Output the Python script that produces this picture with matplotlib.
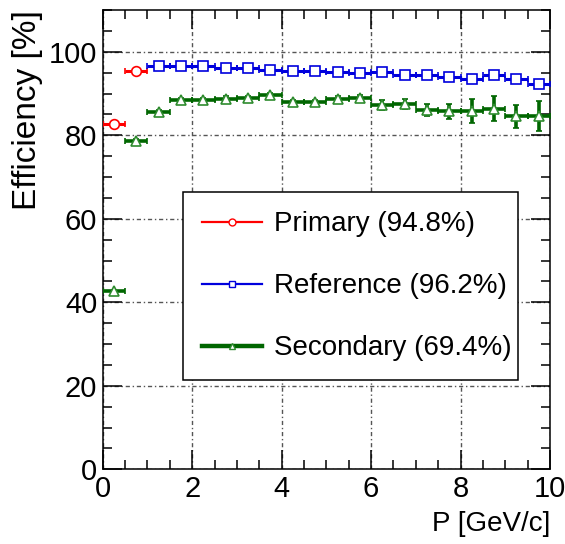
import matplotlib
matplotlib.use("Agg")
import matplotlib.pyplot as plt
from matplotlib.lines import Line2D
from matplotlib.ticker import MultipleLocator
import numpy as np

plt.rcParams['font.family'] = ['Liberation Sans', 'DejaVu Sans']

# P bin centres (GeV/c), bin half width 0.25
primary_p = [0.25, 0.75]
primary_eff = [82.8, 95.5]
primary_err = [0.5, 0.4]

reference_p = [1.25, 1.75, 2.25, 2.75, 3.25, 3.75, 4.25, 4.75, 5.25,
               5.75, 6.25, 6.75, 7.25, 7.75, 8.25, 8.75, 9.25, 9.75]
reference_eff = [96.5, 96.6, 96.6, 96.2, 96.1, 95.6, 95.5, 95.5, 95.2,
                 94.8, 95.1, 94.5, 94.5, 94.0, 93.5, 94.5, 93.4, 92.2]
reference_err = [0.3, 0.3, 0.3, 0.3, 0.3, 0.3, 0.3, 0.3, 0.4,
                 0.4, 0.4, 0.4, 0.5, 0.5, 0.5, 0.6, 0.6, 0.7]

secondary_p = [0.25, 0.75, 1.25, 1.75, 2.25, 2.75, 3.25, 3.75, 4.25, 4.75,
               5.25, 5.75, 6.25, 6.75, 7.25, 7.75, 8.25, 8.75, 9.25, 9.75]
secondary_eff = [42.6, 78.7, 85.5, 88.4, 88.4, 88.8, 88.9, 89.6, 87.9, 87.9,
                 88.7, 88.9, 87.2, 87.5, 86.0, 85.8, 85.8, 86.4, 84.5, 84.6]
secondary_err = [0.4, 0.5, 0.5, 0.5, 0.5, 0.5, 0.5, 0.5, 0.6, 0.6,
                 0.7, 0.8, 1.2, 1.2, 1.4, 1.8, 2.9, 2.9, 2.7, 3.5]

labels = ["Primary (94.8%)", "Reference (96.2%)", "Secondary (69.4%)"]

fig = plt.figure(figsize=(5.65, 5.44), dpi=100)
ax = fig.add_axes([0.1818, 0.1373, 0.7917, 0.8443])

red = '#ff0000'
blue = '#0000dd'
green = '#006600'

ax.errorbar(primary_p, primary_eff, xerr=0.25, yerr=primary_err, fmt='o',
            color=red, mfc='white', mec=red, mew=1.2, ms=7,
            elinewidth=2.2, capsize=2.5, capthick=2.2, zorder=3)
ax.errorbar(reference_p, reference_eff, xerr=0.25, yerr=reference_err, fmt='s',
            color=blue, mfc='white', mec=blue, mew=1.2, ms=7,
            elinewidth=2.2, capsize=2.5, capthick=2.2, zorder=3)
ax.errorbar(secondary_p, secondary_eff, xerr=0.25, yerr=secondary_err, fmt='^',
            color=green, mfc='white', mec='#2e8b2e', mew=1.2, ms=7.5,
            elinewidth=2.6, capsize=2.5, capthick=2.6, zorder=3)

ax.set_xlim(0, 10)
ax.set_ylim(0, 110)
ax.xaxis.set_major_locator(MultipleLocator(2))
ax.xaxis.set_minor_locator(MultipleLocator(0.5))
ax.yaxis.set_major_locator(MultipleLocator(20))
ax.yaxis.set_minor_locator(MultipleLocator(5))
ax.tick_params(which='both', direction='in', top=True, right=True,
               width=1.1, labelsize=21, pad=4)
ax.tick_params(which='major', length=14)
ax.tick_params(which='minor', length=6.5)
for s in ax.spines.values():
    s.set_linewidth(1.1)

ax.grid(True, which='major', ls=(0, (3, 2, 1, 2)), color='#555555', lw=1)
ax.set_axisbelow(True)

ax.set_xlabel("P [GeV/c]", fontsize=20, loc='right', labelpad=6)
ax.set_ylabel("Efficiency [%]", fontsize=24, loc='top', labelpad=4)

handles = [
    Line2D([], [], color=red, lw=1.6, marker='o', ms=5, mfc='white', mec=red),
    Line2D([], [], color=blue, lw=1.6, marker='s', ms=5, mfc='white', mec=blue),
    Line2D([], [], color=green, lw=3.2, marker='^', ms=5, mfc='white', mec='#2e8b2e'),
]
leg = ax.legend(handles, labels, loc='upper left',
                bbox_to_anchor=(0.179, 0.199, 0.7495, 0.404), mode='expand',
                borderaxespad=0, fontsize=20, frameon=True, fancybox=False,
                edgecolor='black', framealpha=1, borderpad=0.68,
                labelspacing=1.3, handlelength=2.16, handletextpad=0.43)
leg.get_frame().set_linewidth(1.1)

fig.savefig("out.png", dpi=100)
